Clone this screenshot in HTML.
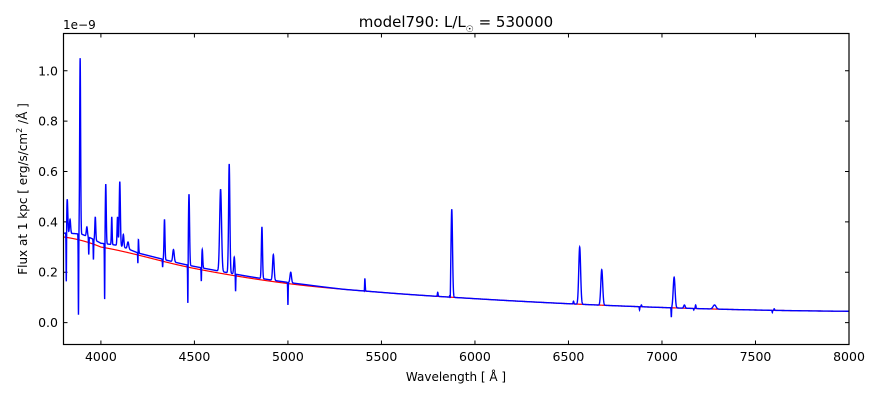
<!DOCTYPE html>
<html><head><meta charset="utf-8">
<style>
body{margin:0;background:#fff;}
svg{display:block;font-family:"DejaVu Sans","Liberation Sans",sans-serif;}
</style></head>
<body>
<svg id="chart" width="880" height="400">
<rect width="880" height="400" fill="#fff"/>
<text x="456" y="27" font-size="15" text-anchor="middle">model790: L/L<tspan font-size="9" dy="5">☉</tspan><tspan dy="-5"> = 530000</tspan></text>
<text x="63" y="29" font-size="12">1e−9</text>
<text x="456" y="381" font-size="12" text-anchor="middle">Wavelength [ Å ]</text>
<text transform="translate(27,189) rotate(-90)" font-size="12" text-anchor="middle">Flux at 1 kpc [ erg/s/cm<tspan font-size="8" dy="-5">2</tspan><tspan dy="5"> /Å ]</tspan></text>
<g id="ticks"></g>
<clipPath id="clip"><rect x="63.5" y="33.5" width="785.5" height="311"/></clipPath>
<g clip-path="url(#clip)" id="series"></g>
<rect x="63.5" y="33.5" width="785.5" height="311" fill="none" stroke="#000" stroke-width="1.2"/>
</svg>
<script>
// continuum (red model) values
const contWave = [3800,4000,4500,5000,5500,6000,6500,7000,7500,8000];
const contFlux = [0.34,0.30,0.215,0.155,0.12,0.095,0.075,0.06,0.05,0.045];
// excess of observed pseudo-continuum above model
const excessWave = [3800,3900,4000,4100,4200,4400,4600,4800,5100,5300];
const excessFlux = [0.015,0.025,0.015,0.02,0.008,0.008,0.008,0.006,0.004,0];
// emission lines: center, peak flux, width
const emWave = [3820,3835,3889,3925,3970,4026,4058,4089,4101,4120,4145,4200,4340,4388,4471,4542,4640,4686,4713,4861,4922,5015,5411,5801,5876,6560,6678,7065,7281,6527,6890,7120,7180,7600];
const emPeak = [0.49,0.41,1.05,0.38,0.42,0.55,0.42,0.42,0.56,0.35,0.32,0.34,0.41,0.29,0.51,0.29,0.53,0.63,0.26,0.38,0.27,0.2,0.18,0.12,0.45,0.30,0.21,0.18,0.07,0.085,0.07,0.07,0.07,0.055];
const emWidth = [3,3,2.5,3,2.5,2.5,2,2.5,3,3,4,2,2.5,4,3,2.5,5,3.5,3,3,4,4,2,2,4,5,5,5,8,2,2,4,2,2];
// absorption lines: center, min flux
const abWave = [3815,3880,3935,3960,4020,4198,4465,4537,4682,4720,5000,5409,5868,7050,6880,7170,7590,4330];
const abMin = [0.13,0.03,0.27,0.25,0.08,0.2,0.04,0.155,0.17,0.12,0.07,0.1,0.06,0.02,0.05,0.05,0.04,0.22];
// ticks
const xTicks = [4000,4500,5000,5500,6000,6500,7000,7500,8000];
const yTicks = [0.0,0.2,0.4,0.6,0.8,1.0];

const X0=3800,X1=8000,PX0=63.5,PX1=849;
const Y0=-0.087,Y1=1.148,PY0=344.5,PY1=33.5;
const xs=w=>PX0+(w-X0)/(X1-X0)*(PX1-PX0);
const ys=v=>PY0+(v-Y0)/(Y1-Y0)*(PY1-PY0);
function cont(w){
  for(let i=0;i<contWave.length-1;i++){
    if(w<=contWave[i+1]){const t=(w-contWave[i])/(contWave[i+1]-contWave[i]);
      const a=contFlux[Math.max(i-1,0)],b=contFlux[i],c=contFlux[i+1],d=contFlux[Math.min(i+2,contFlux.length-1)];
      return b+0.5*t*(c-a+t*(2*a-5*b+4*c-d+t*(3*(b-c)+d-a)));}
  }
  return contFlux[contFlux.length-1];
}
function excess(w){
  if(w>=excessWave[excessWave.length-1])return 0;
  for(let i=0;i<excessWave.length-1;i++){
    if(w<=excessWave[i+1]){const t=(w-excessWave[i])/(excessWave[i+1]-excessWave[i]);return excessFlux[i]*(1-t)+excessFlux[i+1]*t;}
  }
  return 0;
}
const base=w=>cont(w)+excess(w);
function flux(w){
  let f=base(w);
  for(let i=0;i<emWave.length;i++){const s=emWidth[i];f+=(emPeak[i]-base(emWave[i]))*Math.exp(-0.5*((w-emWave[i])/s)**2);}
  for(let i=0;i<abWave.length;i++){f+=(abMin[i]-base(abWave[i]))*Math.exp(-0.5*((w-abWave[i])/1.2)**2);}
  return f;
}
const NS='http://www.w3.org/2000/svg';
const ser=document.getElementById('series');
let pr='',pb='';
for(let w=X0;w<=X1;w+=1){pr+=(w===X0?'M':'L')+xs(w).toFixed(2)+','+ys(cont(w)).toFixed(2);}
let pts=[];
for(let w=X0;w<=X1;w+=0.5){pts.push(xs(w).toFixed(2)+','+ys(flux(w)).toFixed(2));}
pb='M'+pts.join('L');
const red=document.createElementNS(NS,'path');
red.setAttribute('d',pr);red.setAttribute('fill','none');red.setAttribute('stroke','#ff0000');red.setAttribute('stroke-width','1.2');


ser.appendChild(red);
const blue=document.createElementNS(NS,'path');
blue.setAttribute('d',pb);blue.setAttribute('fill','none');blue.setAttribute('stroke','#0000ff');blue.setAttribute('stroke-width','1.4');


ser.appendChild(blue);
const tg=document.getElementById('ticks');
xTicks.forEach(t=>{const x=xs(t);
  const l=document.createElementNS(NS,'path');
  l.setAttribute('d',`M${x},344.5v-4M${x},33.5v4`);l.setAttribute('stroke','#000');
  
  
  tg.appendChild(l);
  const tx=document.createElementNS(NS,'text');
  tx.setAttribute('x',x);tx.setAttribute('y',361);tx.setAttribute('font-size','12.5');tx.setAttribute('text-anchor','middle');
  tx.textContent=t;
  
  
  tg.appendChild(tx);
});
yTicks.forEach(t=>{const y=ys(t);
  const l=document.createElementNS(NS,'path');
  l.setAttribute('d',`M63.5,${y}h4M849,${y}h-4`);l.setAttribute('stroke','#000');
  
  
  tg.appendChild(l);
  const tx=document.createElementNS(NS,'text');
  tx.setAttribute('x',58);tx.setAttribute('y',y+4.5);tx.setAttribute('font-size','12.5');tx.setAttribute('text-anchor','end');
  tx.textContent=t.toFixed(1);
  
  
  tg.appendChild(tx);
});
</script>
</body></html>
